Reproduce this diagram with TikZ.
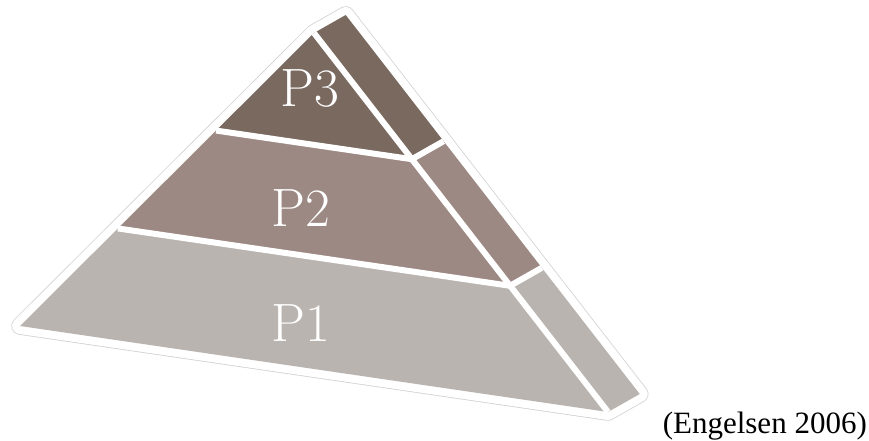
\documentclass[tikz,border=0pt]{standalone}
\usepackage{fontspec}
\newfontfamily\citefont{Liberation Serif}
\usetikzlibrary{calc}
\definecolor{topbrown}{RGB}{121,105,95}
\definecolor{midbrown}{RGB}{157,137,131}
\definecolor{basegrey}{RGB}{185,180,176}
\definecolor{rimgrey}{RGB}{210,210,210}
\tikzset{
  rim/.style={draw=rimgrey, line width=17.6pt, line join=round},
  rimfill/.style={draw=white, fill=white, line width=16pt, line join=round},
  gap/.style={white, line width=6pt, line join=round},
  lab/.style={text=white, font=\fontsize{54}{54}\selectfont, inner sep=0pt},
  cite/.style={font=\citefont\fontsize{31}{31}\selectfont, anchor=base east, inner sep=0pt},
}

\begin{document}
\begin{tikzpicture}[x=1pt,y=-1pt]
  \path[use as bounding box] (0,0) rectangle (869,441);

  \coordinate (apex) at (314,33);
  \coordinate (left) at (20,326);
  \coordinate (right) at (608,412);
  \coordinate (backtop) at ($(apex)+(31.7,-18)$);
  \coordinate (backbot) at ($(right)+(31.7,-18)$);
  \coordinate (p3l) at ($(apex)!0.333!(left)$);
  \coordinate (p3r) at ($(apex)!0.333!(right)$);
  \coordinate (p3b) at ($(p3r)+(31.7,-18)$);
  \coordinate (p2l) at ($(apex)!0.667!(left)$);
  \coordinate (p2r) at ($(apex)!0.667!(right)$);
  \coordinate (p2b) at ($(p2r)+(31.7,-18)$);

  \draw[rim] (left) -- (apex) -- (backtop) -- (backbot) -- (right) -- cycle;
  \draw[rimfill] (left) -- (apex) -- (backtop) -- (backbot) -- (right) -- cycle;

  \fill[topbrown] (apex) -- (p3l) -- (p3r) -- cycle;
  \fill[midbrown] (p3l) -- (p2l) -- (p2r) -- (p3r) -- cycle;
  \fill[basegrey] (p2l) -- (left) -- (right) -- (p2r) -- cycle;
  \fill[topbrown] (apex) -- (backtop) -- (p3b) -- (p3r) -- cycle;
  \fill[midbrown] (p3r) -- (p3b) -- (p2b) -- (p2r) -- cycle;
  \fill[basegrey] (p2r) -- (p2b) -- (backbot) -- (right) -- cycle;

  \draw[gap] (apex) -- (right);
  \draw[gap] (p3l) -- (p3r) -- (p3b);
  \draw[gap] (p2l) -- (p2r) -- (p2b);

  \node[lab] (p3lab) at (310,88) {P3};
  \node[lab] (p2lab) at (301,208) {P2};
  \node[lab] (p1lab) at (301,323) {P1};
  \node[cite] (source) at (867,433) {(Engelsen 2006)};
\end{tikzpicture}
\end{document}
